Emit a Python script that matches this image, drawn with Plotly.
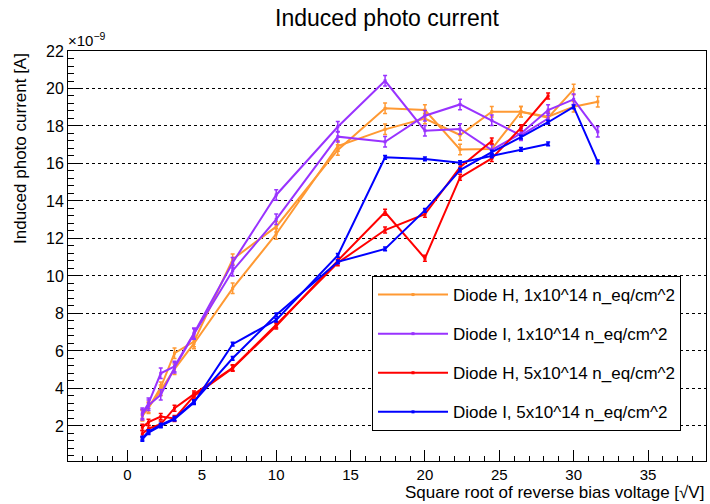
import plotly.graph_objects as go

# x positions: square root of the bias voltage [sqrt(V)]
x_vals = [1.0, 1.414, 2.236, 3.162, 4.472, 7.071, 10.0, 14.142, 17.321, 20.0,
          22.361, 24.495, 26.458, 28.284, 30.0, 31.623]

# Induced photo current in units of 1e-9 A
orange_a = [2.54, 2.95, 4.06, 5.88, 6.5, 10.89, 12.63, 16.72, 18.94, 18.85, 16.75, 16.77, 18.76, 18.44, 19.95]
orange_b = [2.6, 3.0, 3.9, 5.03, 6.4, 9.34, 12.24, 16.93, 17.82, 18.4, 17.52, 18.76, 18.76, 18.5, 19.03, 19.29]
purple_a = [2.68, 3.21, 4.81, 5.17, 6.95, 10.71, 14.32, 17.96, 20.41, 17.75, 17.84, 16.72, 17.6, 18.85, 19.42, 17.69]
purple_b = [2.6, 3.1, 3.66, 5.1, 6.9, 10.28, 13.02, 17.43, 17.16, 18.55, 19.15, 18.3, 17.5, 18.4]
red_a = [1.93, 2.2, 2.5, 2.4, 3.6, 5.08, 7.33, 10.82, 13.4, 10.94, 15.26, 16.27, 17.9, 19.6]
red_b = [1.58, 1.85, 2.1, 2.95, 3.7, 5.1, 7.4, 10.7, 12.45, 13.29, 15.8, 17.2]
blue_a = [1.29, 1.65, 2.0, 2.36, 3.25, 6.36, 7.65, 11.1, 16.33, 16.24, 16.04, 16.4, 16.75, 17.04]
blue_b = [1.35, 1.7, 2.05, 2.4, 3.3, 5.61, 7.92, 10.75, 11.44, 13.5, 15.65, 16.6, 17.4, 18.2, 19.02, 16.09]

# symmetric errors (1e-9 A)
err_orange = 0.28
err_purple = 0.28
err_red = 0.16
err_blue = 0.1

legend_names = ["Diode H, 1x10^14 n_eq/cm^2", "Diode I, 1x10^14 n_eq/cm^2",
                "Diode H, 5x10^14 n_eq/cm^2", "Diode I, 5x10^14 n_eq/cm^2"]

ORANGE = "rgb(255,153,51)"
PURPLE = "rgb(153,51,255)"
RED = "rgb(255,0,0)"
BLUE = "rgb(0,0,255)"

series = [
    (orange_a, err_orange, ORANGE, 0, True),
    (orange_b, err_orange, ORANGE, 0, False),
    (purple_a, err_purple, PURPLE, 1, True),
    (purple_b, err_purple, PURPLE, 1, False),
    (red_a, err_red, RED, 2, True),
    (red_b, err_red, RED, 2, False),
    (blue_a, err_blue, BLUE, 3, True),
    (blue_b, err_blue, BLUE, 3, False),
]

FONT = "Liberation Sans, Arial, sans-serif"

fig = go.Figure()
for ys, err, col, gi, show in series:
    fig.add_trace(go.Scatter(
        x=x_vals[:len(ys)], y=ys,
        mode="lines+markers",
        line=dict(color=col, width=2),
        marker=dict(color=col, size=3, symbol="square"),
        error_y=dict(type="constant", value=err, color=col, thickness=1.5, width=2),
        name=legend_names[gi], legendgroup=str(gi), showlegend=show,
    ))

fig.update_layout(
    width=710, height=504, autosize=False,
    margin=dict(l=68, r=4, t=51, b=43),
    paper_bgcolor="white", plot_bgcolor="white",
    font=dict(family=FONT, size=16, color="black"),
    title=dict(text="Induced photo current", x=(68 + 706) / 2 / 710, xanchor="center",
               y=1 - 18 / 504, yanchor="middle", font=dict(size=23, family=FONT)),
    showlegend=True,
    legend=dict(x=(372 - 68) / 638, y=(461 - 276) / 410, xanchor="left", yanchor="top",
                bgcolor="white", bordercolor="black", borderwidth=1,
                font=dict(size=17, family=FONT), tracegroupgap=14,
                itemwidth=70),
)

fig.update_xaxes(
    range=[-4.0, 38.9], dtick=5, tick0=0,
    showgrid=False, zeroline=False,
    showline=True, linecolor="black", linewidth=1, mirror=True,
    ticks="inside", ticklen=11, tickcolor="black",
    minor=dict(dtick=1, ticks="inside", ticklen=5, tickcolor="black", showgrid=False),
    tickfont=dict(size=15),
)
fig.update_yaxes(
    range=[0.13, 22.0], dtick=2, tick0=0,
    showgrid=True, gridcolor="black", griddash="dot", gridwidth=1,
    zeroline=False,
    showline=True, linecolor="black", linewidth=1, mirror=True,
    ticks="inside", ticklen=12, tickcolor="black",
    minor=dict(dtick=0.4, ticks="inside", ticklen=6, tickcolor="black", showgrid=False),
    tickfont=dict(size=16),
)

fig.add_annotation(text="Square root of reverse bias voltage [\u221aV]",
                   xref="paper", yref="paper", x=1.0, y=-0.076,
                   xanchor="right", yanchor="middle", showarrow=False,
                   font=dict(size=17, family=FONT))
fig.add_annotation(text="Induced photo current [A]",
                   xref="paper", yref="paper", x=-0.0745, y=1.0,
                   xanchor="center", yanchor="top", textangle=-90, showarrow=False,
                   font=dict(size=17, family=FONT))
fig.add_annotation(text="\u00d710<sup>\u22129</sup>",
                   xref="paper", yref="paper", x=-0.003, y=1.0,
                   xanchor="left", yanchor="bottom", showarrow=False,
                   font=dict(size=15, family=FONT))

# remove the default 8 px page margin so the 710x504 figure fills the window
fig.write_html("out.html", config={"displayModeBar": False},
               post_script="document.body.style.margin='0';")
